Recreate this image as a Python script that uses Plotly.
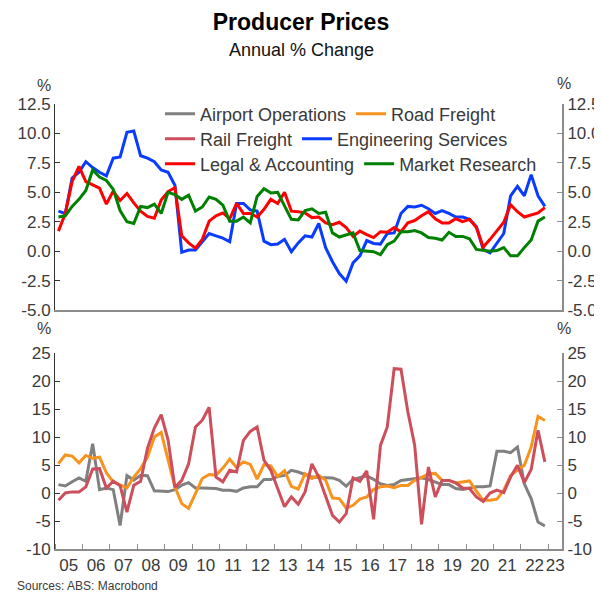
import plotly.graph_objects as go

# ---------------- data (quarterly, 2005Q1 .. 2022Q4) ----------------
quarters = [f"{y}Q{q}" for y in range(2005, 2023) for q in range(1, 5)]
t = [2005 + (i + 0.5) / 4 for i in range(len(quarters))]

airport_operations = [
    1.5, 1.25, 2.0, 2.7, 2.1, 8.8, 0.6, 0.9, 0.6, -5.8, 3.1, 2.3, 3.15, 3.1, 0.4, 0.35, 0.25, 0.6,
    1.4, 1.85, 0.9, 0.9, 0.9, 0.8, 0.5, 0.5, 0.3, 0.9, 1.1, 1.1, 2.4, 2.4, 2.95, 3.15, 4.05, 3.75,
    3.3, 2.85, 2.75, 2.75, 2.7, 2.25, 1.2, 2.45, 2.7, 3.05, 2.45, 1.65, 1.35, 1.5, 2.25, 2.4, 2.55, 2.7,
    2.4, 2.0, 1.5, 1.5, 0.8, 0.65, 0.9, 1.1, 1.1, 1.25, 7.45, 7.45, 7.2, 8.2, 1.65, -1.0, -5.2, -5.9]
road_freight = [
    5.25, 6.8, 6.6, 5.4, 6.7, 6.2, 6.4, 3.6, 2.0, 1.4, 0.9, 2.85, 4.35, 6.4, 10.0, 10.8, 5.95, 1.1,
    -1.9, -2.75, -0.1, 2.6, 3.3, 3.2, 4.45, 6.05, 4.55, 5.55, 5.1, 2.5, 5.05, 4.85, 2.95, 4.0, 1.2, 0.7,
    3.45, 2.6, 3.15, 2.3, -0.9, -1.0, -2.7, -2.2, -1.1, -0.7, 0.65, 1.1, 1.25, 0.95, 1.35, 1.35, 2.25, 2.75,
    3.45, 3.5, 2.25, 2.25, 1.8, 1.95, 2.15, 0.35, -1.3, -1.3, -1.1, 0.5, 3.15, 4.05, 4.95, 8.2, 13.7, 12.95]
rail_freight = [
    -1.3, 0.0, 0.2, 0.2, 1.1, 4.3, 4.35, 0.9, 2.1, 1.3, -3.4, 1.4, 2.1, 8.0, 11.6, 14.0, 9.5, 1.0,
    2.25, 5.2, 11.8, 13.0, 15.3, 2.85, 2.0, 4.05, 3.75, 9.4, 11.0, 11.8, 5.85, 4.05, 0.8, -2.45, -0.7, -2.0,
    0.2, 5.2, 2.85, -0.7, -4.0, -5.2, -3.7, 2.7, 2.1, 3.95, -4.7, 8.5, 11.8, 22.2, 22.1, 14.5, 8.5, -5.6,
    4.65, -0.7, 2.25, 2.25, 1.8, 0.9, 0.8, -0.7, -1.5, 0.0, 0.5, 0.05, 2.85, 4.95, 1.85, 4.2, 11.2, 5.55]
engineering_services = [
    3.4, 3.2, 6.2, 6.7, 7.6, 7.1, 6.7, 6.4, 7.9, 8.0, 10.1, 10.2, 8.1, 7.9, 7.6, 6.9, 6.7, 5.6,
    -0.1, 0.1, 0.1, 0.85, 1.5, 1.3, 1.1, 0.8, 4.05, 4.05, 3.5, 3.4, 0.85, 0.55, 0.6, 1.0, -0.05, 0.7,
    1.3, 1.2, 2.35, 0.3, -0.9, -1.9, -2.55, -1.0, -0.4, 0.9, 0.65, 0.6, 1.5, 1.55, 3.2, 3.8, 3.75, 3.9,
    3.6, 3.2, 3.45, 3.2, 2.9, 2.9, 2.7, 2.1, 0.15, -0.15, 0.7, 1.5, 4.7, 5.5, 4.7, 6.5, 4.7, 3.8]
legal_accounting = [
    1.7, 3.2, 5.9, 7.2, 5.9, 5.6, 5.35, 4.0, 5.1, 4.3, 4.9, 4.1, 3.4, 2.95, 2.8, 4.35, 5.05, 5.4,
    1.3, 0.7, 0.25, 1.0, 2.55, 3.0, 3.25, 2.75, 4.05, 3.2, 3.2, 2.9, 3.55, 4.4, 4.05, 5.0, 3.4, 3.35,
    3.25, 2.85, 2.9, 2.4, 2.25, 2.45, 2.0, 1.25, 1.7, 1.4, 1.15, 1.65, 1.6, 2.0, 1.65, 2.4, 2.6, 3.0,
    3.35, 2.75, 2.4, 2.4, 2.75, 2.5, 2.7, 2.0, 0.35, 1.0, 1.7, 2.45, 3.95, 3.35, 2.9, 3.05, 3.25, 3.7]
market_research = [
    2.9, 3.0, 3.8, 4.4, 5.15, 6.9, 6.3, 6.0, 5.25, 3.45, 2.5, 2.35, 3.8, 3.7, 4.0, 3.2, 5.0, 4.8,
    4.4, 4.75, 3.4, 3.75, 4.6, 4.4, 3.9, 2.55, 2.55, 2.9, 2.4, 4.65, 5.3, 4.95, 5.0, 3.9, 2.7, 2.65,
    3.45, 3.6, 3.2, 3.3, 1.55, 1.2, 1.4, 1.55, 0.05, 0.0, -0.05, -0.3, 0.55, 0.85, 1.65, 1.65, 1.75, 1.55,
    1.15, 1.1, 0.95, 1.6, 1.25, 1.25, 1.05, 0.15, 0.1, 0.0, 0.05, 0.3, -0.4, -0.4, 0.3, 0.95, 2.55, 2.9]

top_tickvals = [12.5, 10.0, 7.5, 5.0, 2.5, 0.0, -2.5, -5.0]
top_ticktext = ["12.5", "10.0", "7.5", "5.0", "2.5", "0.0", "-2.5", "-5.0"]
bot_tickvals = [25, 20, 15, 10, 5, 0, -5, -10]
bot_ticktext = ["25", "20", "15", "10", "5", "0", "-5", "-10"]
year_labels = [f"{y % 100:02d}" for y in range(2005, 2024)]
year_label_pos = [y + 0.5 for y in range(2005, 2023)] + [2023.25]

# ---------------- styling ----------------
# the page body keeps an 8 px browser margin, so the figure is laid out 8 px
# smaller and every reference pixel position is shifted by OFF.
OFF = 8
W, H = 602 - OFF, 594 - OFF
ML, MR, MT, MB = 55 - OFF, 40, 104 - OFF, 45
PW, PH = W - ML - MR, H - MT - MB
FONT = "Liberation Sans, Arial, sans-serif"
TXT = "#3a3a3a"
GREY_AX = "#8c8c8c"


def px(x):
    return (x - OFF - ML) / PW


def py(y):
    return (H - MB - (y - OFF)) / PH


top_dom = [py(310), 1.0]
bot_dom = [0.0, py(353)]

fig = go.Figure()

series = [
    ("Airport Operations", airport_operations, "#808080", "x2", "y2", "legend"),
    ("Road Freight", road_freight, "#F7931E", "x2", "y2", "legend"),
    ("Rail Freight", rail_freight, "#CC4F5B", "x2", "y2", "legend2"),
    ("Engineering Services", engineering_services, "#0A3CFF", "x", "y", "legend2"),
    ("Legal & Accounting", legal_accounting, "#FF0000", "x", "y", "legend3"),
    ("Market Research", market_research, "#008000", "x", "y", "legend3"),
]
for name, vals, col, xa, ya, lg in series:
    fig.add_trace(go.Scatter(x=t, y=vals, name=name, mode="lines",
                             line=dict(color=col, width=3), xaxis=xa, yaxis=ya,
                             legend=lg, hoverinfo="skip"))

# empty carriers so that the right-hand mirror axes are drawn
fig.add_trace(go.Scatter(x=[None], y=[None], xaxis="x", yaxis="y3", showlegend=False,
                         hoverinfo="skip", mode="lines"))
fig.add_trace(go.Scatter(x=[None], y=[None], xaxis="x2", yaxis="y4", showlegend=False,
                         hoverinfo="skip", mode="lines"))

ytickfont = dict(family=FONT, size=17, color=TXT)
xtickfont = dict(family=FONT, size=17, color=TXT)
xrange = [2005, 2023.5]

fig.update_layout(
    width=W, height=H,
    margin=dict(l=ML, r=MR, t=MT, b=MB, autoexpand=False),
    paper_bgcolor="white", plot_bgcolor="white",
    font=dict(family=FONT, color=TXT),
    title=dict(text="<b>Producer Prices</b>", x=(301 - OFF) / W, xref="container",
               xanchor="center", y=1 - (22 - OFF) / H, yref="container", yanchor="middle",
               font=dict(family=FONT, size=23, color="#000000")),
    xaxis=dict(domain=[0, 1], anchor="y", range=xrange, showline=True, linecolor=GREY_AX,
               linewidth=2, ticks="", showticklabels=False, showgrid=False, zeroline=False),
    yaxis=dict(domain=top_dom, anchor="x", range=[-5, 12.5], tickmode="array",
               tickvals=top_tickvals, ticktext=top_ticktext, ticks="inside", ticklen=5,
               tickcolor="#333333", showline=True, linecolor="#333333", linewidth=1,
               showgrid=False, zeroline=False, tickfont=ytickfont),
    yaxis3=dict(overlaying="y", side="right", anchor="x", range=[-5, 12.5], tickmode="array",
                tickvals=top_tickvals, ticktext=top_ticktext, ticks="inside", ticklen=5,
                tickcolor=GREY_AX, showline=True, linecolor=GREY_AX, linewidth=2,
                showgrid=False, zeroline=False, tickfont=ytickfont),
    xaxis2=dict(domain=[0, 1], anchor="y2", range=xrange, showline=True, linecolor=GREY_AX,
                linewidth=2, tickmode="array", tickvals=year_label_pos, ticktext=year_labels,
                tickangle=0, ticks="", showgrid=False, zeroline=False, tickfont=xtickfont,
                minor=dict(tickmode="linear", tick0=2005, dtick=1, ticks="inside", ticklen=5,
                           tickcolor=GREY_AX, showgrid=False)),
    yaxis2=dict(domain=bot_dom, anchor="x2", range=[-10, 25], tickmode="array",
                tickvals=bot_tickvals, ticktext=bot_ticktext, ticks="inside", ticklen=5,
                tickcolor="#333333", showline=True, linecolor="#333333", linewidth=1,
                showgrid=False, zeroline=False, tickfont=ytickfont),
    yaxis4=dict(overlaying="y2", side="right", anchor="x2", range=[-10, 25], tickmode="array",
                tickvals=bot_tickvals, ticktext=bot_ticktext, ticks="inside", ticklen=5,
                tickcolor=GREY_AX, showline=True, linecolor=GREY_AX, linewidth=2,
                showgrid=False, zeroline=False, tickfont=ytickfont),
)

legfont = dict(family=FONT, size=18, color=TXT)
for key, ypx in [("legend", 114), ("legend2", 139), ("legend3", 164)]:
    fig.update_layout({key: dict(orientation="h", x=(160 - OFF) / W, xref="container",
                                 xanchor="left", y=1 - (ypx - OFF) / H, yref="container",
                                 yanchor="middle", bgcolor="rgba(0,0,0,0)", borderwidth=0,
                                 font=legfont, itemclick=False, itemdoubleclick=False)})

ann = [
    dict(text="Annual % Change", x=px(301), y=py(50), size=18, color="#111111"),
    dict(text="%", x=px(44), y=py(85), size=16, color=TXT),
    dict(text="%", x=px(564), y=py(84), size=16, color=TXT),
    dict(text="%", x=px(44), y=py(328), size=16, color=TXT),
    dict(text="%", x=px(564), y=py(328), size=16, color=TXT),
]
for a in ann:
    fig.add_annotation(text=a["text"], x=a["x"], y=a["y"], xref="paper", yref="paper",
                       showarrow=False, xanchor="center", yanchor="middle",
                       font=dict(family=FONT, size=a["size"], color=a["color"]))
fig.add_annotation(text="Sources: ABS: Macrobond", x=px(15), y=py(586), xref="paper", yref="paper",
                   showarrow=False, xanchor="left", yanchor="middle",
                   font=dict(family=FONT, size=12, color=TXT))

fig.write_html("out.html")
